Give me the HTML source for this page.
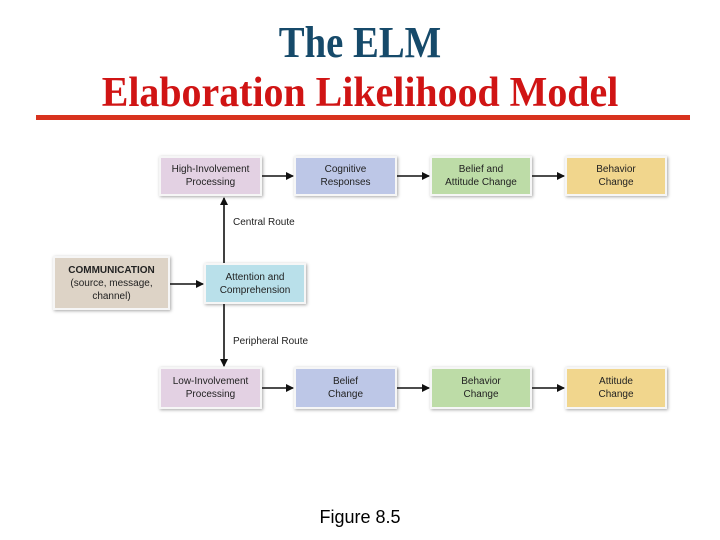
<!DOCTYPE html>
<html><head><style>
body{margin:0;width:720px;height:540px;background:#fff;position:relative;overflow:hidden;font-family:"Liberation Sans",sans-serif}
.t{position:absolute;left:0;width:720px;text-align:center;font-family:"Liberation Serif",serif;font-weight:bold;white-space:nowrap}
.b{position:absolute;display:flex;align-items:center;justify-content:center;text-align:center;font-size:10px;line-height:13px;color:#222;border:2px solid #f6f6f6;box-shadow:1px 1px 3px rgba(0,0,0,.35);box-sizing:border-box;font-family:"Liberation Sans Narrow","Liberation Sans",sans-serif}
.p{background:#e3d1e3}.bl{background:#bdc7e7}.g{background:#bddca7}.y{background:#f1d68d}
.l{position:absolute;font-size:10px;color:#222;font-family:"Liberation Sans Narrow","Liberation Sans",sans-serif}
</style></head><body>
<div class="t" style="top:21px;color:#164a6a;font-size:44px;line-height:44px;transform:scaleX(0.88)">The ELM</div>
<div class="t" style="top:72px;color:#d01414;font-size:42px;line-height:42px;transform:scaleX(0.95)">Elaboration Likelihood Model</div>
<div style="position:absolute;left:36px;top:115px;width:654px;height:5px;background:#d8321e"></div>

<div class="b p" style="left:159px;top:156px;width:103px;height:40px">High-Involvement<br>Processing</div>
<div class="b bl" style="left:294px;top:156px;width:103px;height:40px">Cognitive<br>Responses</div>
<div class="b g" style="left:430px;top:156px;width:102px;height:40px">Belief and<br>Attitude Change</div>
<div class="b y" style="left:565px;top:156px;width:102px;height:40px">Behavior<br>Change</div>

<div class="b" style="left:53px;top:256px;width:117px;height:54px;background:#ddd3c6"><span><b>COMMUNICATION</b><br>(source, message,<br>channel)</span></div>
<div class="b" style="left:204px;top:263px;width:102px;height:41px;background:#b9e0ea">Attention and<br>Comprehension</div>

<div class="b p" style="left:159px;top:367px;width:103px;height:42px">Low-Involvement<br>Processing</div>
<div class="b bl" style="left:294px;top:367px;width:103px;height:42px">Belief<br>Change</div>
<div class="b g" style="left:430px;top:367px;width:102px;height:42px">Behavior<br>Change</div>
<div class="b y" style="left:565px;top:367px;width:102px;height:42px">Attitude<br>Change</div>

<div class="l" style="left:233px;top:217px">Central Route</div>
<div class="l" style="left:233px;top:336px">Peripheral Route</div>

<svg width="720" height="540" style="position:absolute;left:0;top:0">
<defs><marker id="a" markerWidth="8" markerHeight="8" refX="7" refY="4" orient="auto" markerUnits="userSpaceOnUse"><path d="M0,0L8,4L0,8z" fill="#111"/></marker></defs>
<g stroke="#111" stroke-width="1.6" fill="none" marker-end="url(#a)">
<line x1="262" y1="176" x2="293" y2="176"/>
<line x1="397" y1="176" x2="429" y2="176"/>
<line x1="532" y1="176" x2="564" y2="176"/>
<line x1="262" y1="388" x2="293" y2="388"/>
<line x1="397" y1="388" x2="429" y2="388"/>
<line x1="532" y1="388" x2="564" y2="388"/>
<line x1="170" y1="284" x2="203" y2="284"/>
<line x1="224" y1="263" x2="224" y2="198"/>
<line x1="224" y1="304" x2="224" y2="366"/>
</g></svg>
<div style="position:absolute;left:0;width:720px;top:507px;text-align:center;font-size:18px">Figure 8.5</div>
</body></html>
